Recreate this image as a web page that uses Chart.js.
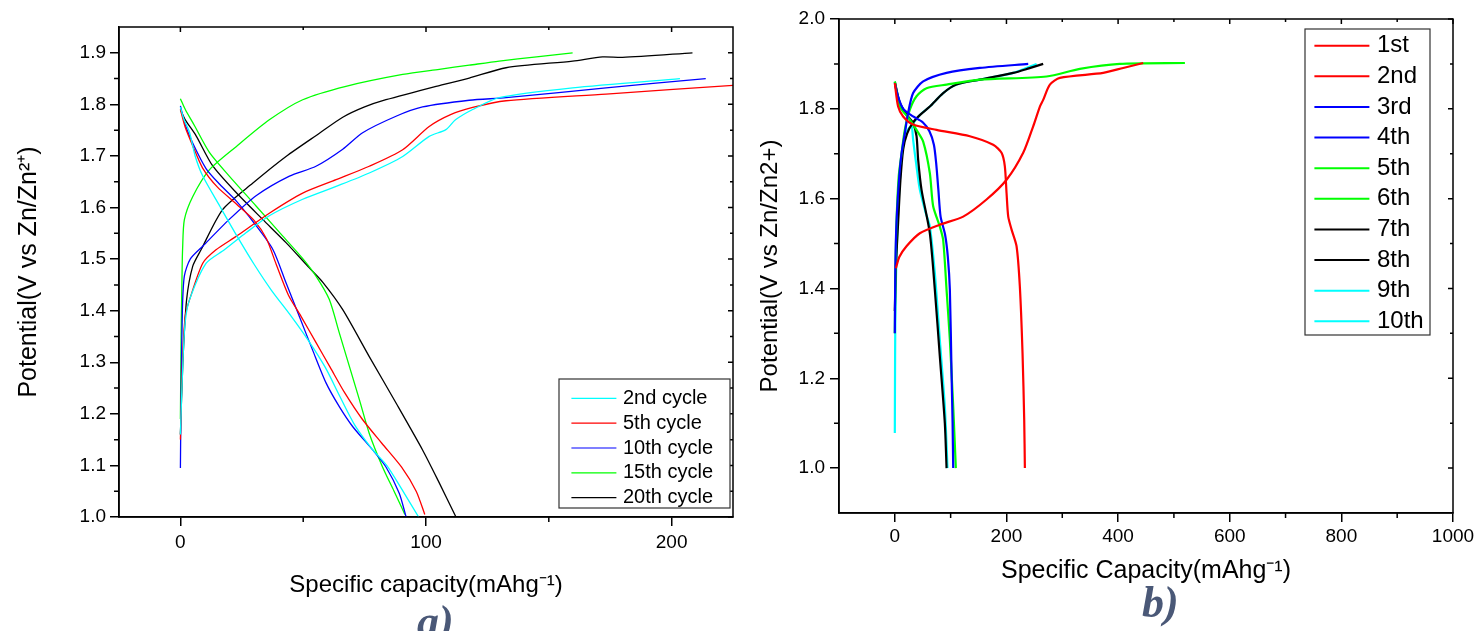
<!DOCTYPE html>
<html>
<head>
<meta charset="utf-8">
<title>Charge-discharge profiles</title>
<script src="https://cdn.jsdelivr.net/npm/chart.js@4.4.0/dist/chart.umd.min.js"></script>
<style>
  html, body { margin: 0; padding: 0; background: #fff; }
  body { width: 1477px; height: 631px; position: relative; overflow: hidden; }
  .panel { position: absolute; top: 0; height: 631px; }
  #panelA { left: 0; width: 740px; }
  #panelB { left: 740px; width: 737px; }
</style>
</head>
<body>
<div class="panel" id="panelA"><canvas id="chartA"></canvas></div>
<div class="panel" id="panelB"><canvas id="chartB"></canvas></div>
<script>
// ---- Panel a: selected cycles, [capacity mAh/g, potential V] ----
const cyclesA = ['2nd cycle', '5th cycle', '10th cycle', '15th cycle', '20th cycle'];
const colorsA = ['#00ffff', '#ff0000', '#0000ff', '#00ff00', '#000000'];

const dischargeA = [
  [[0,1.795],[1.5,1.77],[3.7,1.746],[6,1.7],[9.1,1.661],[16,1.603],[23,1.545],[30,1.49],[37,1.44],[45,1.39],[52,1.343],[59,1.29],[65,1.233],[71,1.178],[78,1.132],[84,1.1],[90,1.055],[97,1.0]],
  [[0,1.79],[2,1.755],[5,1.72],[9,1.677],[15,1.64],[23,1.606],[30,1.575],[35,1.54],[39,1.49],[44,1.43],[49,1.39],[55,1.34],[61,1.29],[67,1.24],[74,1.19],[82,1.143],[90,1.097],[96,1.05],[99.5,1.005]],
  [[0,1.797],[2,1.76],[5,1.725],[10.5,1.675],[16,1.645],[22.7,1.613],[30,1.57],[37.6,1.519],[43,1.454],[48.4,1.389],[53.8,1.324],[59.3,1.26],[64.7,1.214],[70.2,1.175],[78.3,1.13],[83.7,1.097],[89.1,1.046],[91.9,1.0]],
  [[0,1.811],[2,1.79],[5.7,1.759],[11.8,1.707],[19.9,1.661],[30.8,1.603],[41.6,1.545],[50,1.5],[55.2,1.467],[60.6,1.422],[64.7,1.357],[68.8,1.292],[72.9,1.227],[76.9,1.162],[82.3,1.097],[87,1.05],[91.4,1.005]],
  [[0,1.79],[2,1.77],[6.4,1.739],[13.1,1.681],[22.7,1.629],[33.5,1.577],[43,1.532],[52.5,1.483],[58,1.455],[66.1,1.402],[76.9,1.311],[87.8,1.221],[98.6,1.13],[105,1.07],[112.2,1.0]]
];

const chargeA = [
  [[0,1.16],[1,1.3],[2,1.38],[3.7,1.421],[10.5,1.492],[17.9,1.518],[26.7,1.551],[36.2,1.584],[49.8,1.616],[63.4,1.641],[76.9,1.667],[90.5,1.699],[101.3,1.738],[108.1,1.751],[112,1.77],[119,1.79],[129.8,1.813],[159.7,1.832],[203.4,1.85]],
  [[0,1.15],[0.8,1.3],[2,1.39],[3.7,1.421],[9.1,1.492],[14.5,1.518],[22.7,1.544],[36.2,1.589],[49.8,1.628],[63.4,1.654],[76.9,1.68],[90.5,1.712],[101.3,1.757],[110,1.78],[119,1.794],[132.6,1.807],[173.3,1.82],[225,1.837]],
  [[0,1.095],[0.3,1.25],[0.8,1.4],[1.6,1.467],[4,1.5],[9.1,1.525],[19.9,1.577],[30.8,1.623],[44.4,1.661],[55.2,1.68],[66.1,1.713],[74.2,1.745],[87.8,1.777],[98.6,1.795],[117.6,1.808],[132.6,1.813],[173.3,1.832],[213.9,1.85]],
  [[0,1.19],[0.3,1.35],[0.7,1.48],[0.9,1.52],[1.6,1.576],[5,1.621],[11.8,1.673],[22.7,1.718],[36.2,1.77],[49.8,1.809],[67.4,1.835],[90.5,1.858],[105.4,1.868],[117.6,1.876],[129.8,1.884],[145,1.892],[159.7,1.9]],
  [[0,1.16],[1,1.3],[2.5,1.42],[5,1.486],[8.4,1.518],[17.2,1.596],[29.4,1.647],[43,1.699],[56.6,1.744],[66.1,1.775],[75,1.795],[83.7,1.809],[104.1,1.835],[117.6,1.851],[132.6,1.871],[159.7,1.884],[171.9,1.892],[180,1.891],[208.5,1.9]]
];

const xTicksA = [0, 100, 200];
const xMinorA = [50, 150];
const yTicksA = [1.0, 1.1, 1.2, 1.3, 1.4, 1.5, 1.6, 1.7, 1.8, 1.9];
const yMinorA = [1.05, 1.15, 1.25, 1.35, 1.45, 1.55, 1.65, 1.75, 1.85];

// ---- Panel b: first ten cycles ----
const cyclesB = ['1st', '2nd', '3rd', '4th', '5th', '6th', '7th', '8th', '9th', '10th'];
const colorsB = ['#ff0000', '#ff0000', '#0000ff', '#0000ff', '#00ff00', '#00ff00', '#000000', '#000000', '#00ffff', '#00ffff'];

const curvesB = [
  [[0,1.857],[5.9,1.805],[14.9,1.783],[32.8,1.765],[74.7,1.753],[134.4,1.739],[176.2,1.72],[191.2,1.702],[197.1,1.672],[200.2,1.612],[203.2,1.56],[209.2,1.531],[218.1,1.494],[224,1.404],[228.8,1.256],[231.8,1.108],[233,1.0]],
  [[2,1.445],[8,1.47],[20.9,1.494],[44.8,1.523],[80.6,1.542],[122.5,1.56],[164.3,1.598],[200.2,1.642],[230,1.702],[247.9,1.761],[259.9,1.805],[265.8,1.82],[277.8,1.854],[295.7,1.869],[373.3,1.88],[409.1,1.891],[445,1.902]],
  [[0,1.857],[5,1.83],[15,1.8],[32.8,1.783],[50,1.77],[62,1.75],[70,1.72],[74,1.68],[78,1.62],[82,1.56],[90,1.52],[95,1.47],[98.6,1.397],[101.6,1.212],[103.5,1.1],[104.6,1.0]],
  [[0,1.3],[1,1.45],[3,1.546],[8,1.65],[12,1.7],[17.9,1.745],[23.8,1.791],[32.8,1.835],[50.8,1.861],[92.7,1.88],[152.3,1.891],[239,1.9]],
  [[0,1.861],[9,1.805],[26.9,1.776],[38.9,1.753],[50.8,1.727],[62.7,1.657],[68.7,1.583],[80.6,1.538],[86.6,1.508],[92.7,1.397],[98.6,1.286],[104.6,1.137],[109.3,1.0]],
  [[0,1.3],[1,1.42],[3,1.546],[7,1.65],[12,1.7],[17.9,1.753],[26.9,1.798],[38.9,1.828],[56.8,1.846],[92.7,1.854],[152.3,1.865],[271.9,1.872],[331.5,1.889],[403,1.9],[519.7,1.902]],
  [[0,1.86],[9,1.813],[21,1.787],[32.8,1.768],[38.9,1.739],[41.8,1.687],[47.8,1.62],[62.7,1.523],[71.7,1.397],[80.6,1.249],[89.6,1.1],[92.7,1.0]],
  [[0,1.35],[2,1.45],[5.9,1.546],[10,1.64],[15,1.71],[22,1.745],[32.8,1.77],[44.8,1.786],[62.7,1.805],[86.6,1.835],[110.6,1.854],[152.3,1.865],[212.1,1.88],[240,1.89],[265.8,1.9]],
  [[0,1.86],[9,1.813],[21,1.787],[30,1.765],[32.8,1.731],[38,1.68],[44.8,1.62],[55,1.57],[62.7,1.538],[71.7,1.434],[80.6,1.286],[89.6,1.137],[94.4,1.0]],
  [[0,1.078],[0.5,1.25],[1.5,1.397],[5,1.546],[9,1.64],[14,1.71],[21,1.748],[32.8,1.768],[44.8,1.786],[62.7,1.805],[86.6,1.835],[110.6,1.854],[152.3,1.865],[212.1,1.88],[254,1.9]]
];

const xTicksB = [0, 200, 400, 600, 800, 1000];
const xMinorB = [100, 300, 500, 700, 900];
const yTicksB = [1.0, 1.2, 1.4, 1.6, 1.8, 2.0];
const yMinorB = [1.1, 1.3, 1.5, 1.7, 1.9];

const FONT = '"Liberation Sans", Arial, Helvetica, sans-serif';

const toPoints = arr => arr.map(([x, y]) => ({ x, y }));

// Box frame, minor ticks and inward ticks on the top/right sides
const frameTicks = {
  id: 'frameTicks',
  afterDatasetsDraw(chart, args, o) {
    const { ctx, chartArea: a, scales: { x, y } } = chart;
    ctx.save();
    ctx.strokeStyle = '#000';
    ctx.lineWidth = 1.5;
    ctx.strokeRect(a.left, a.top, a.width, a.height);

    ctx.beginPath();
    o.xMinor.forEach(v => {
      const px = x.getPixelForValue(v);
      ctx.moveTo(px, a.bottom); ctx.lineTo(px, a.bottom + o.minorLen);
      ctx.moveTo(px, a.top); ctx.lineTo(px, a.top + o.inMinor);
    });
    o.yMinor.forEach(v => {
      const py = y.getPixelForValue(v);
      ctx.moveTo(a.left, py); ctx.lineTo(a.left - o.minorLen, py);
      ctx.moveTo(a.right, py); ctx.lineTo(a.right - o.inMinor, py);
    });
    x.ticks.forEach(t => {
      const px = x.getPixelForValue(t.value);
      ctx.moveTo(px, a.top); ctx.lineTo(px, a.top + o.inMajor);
    });
    y.ticks.forEach(t => {
      const py = y.getPixelForValue(t.value);
      ctx.moveTo(a.right, py); ctx.lineTo(a.right - o.inMajor, py);
    });
    ctx.stroke();
    ctx.restore();
  }
};

// Legend drawn inside the plot, plus the panel letter
const boxLegend = {
  id: 'boxLegend',
  afterDraw(chart, args, o) {
    const { ctx, chartArea: a } = chart;
    const left = a.left + o.left;
    const top = a.top + o.top;
    ctx.save();
    ctx.fillStyle = '#fff';
    ctx.fillRect(left, top, o.width, o.height);
    ctx.strokeStyle = '#333';
    ctx.lineWidth = 1.2;
    ctx.strokeRect(left, top, o.width, o.height);
    ctx.font = `${o.fontSize}px ${FONT}`;
    ctx.textBaseline = 'middle';
    o.labels.forEach((label, i) => {
      const cy = top + o.firstRow + i * o.rowGap;
      ctx.strokeStyle = o.colors[i];
      ctx.lineWidth = o.lineWidth;
      ctx.beginPath();
      ctx.moveTo(left + o.lineStart, cy);
      ctx.lineTo(left + o.lineStart + o.lineLen, cy);
      ctx.stroke();
      ctx.fillStyle = '#000';
      ctx.fillText(label, left + o.textStart, cy);
    });

    ctx.font = 'bold italic 44px "Liberation Serif", "DejaVu Serif", serif';
    ctx.fillStyle = '#4a5877';
    ctx.textBaseline = 'alphabetic';
    ctx.fillText(o.panel.text, o.panel.x, o.panel.y);
    ctx.restore();
  }
};

function makeAxis(cfg) {
  return {
    type: 'linear',
    min: cfg.min,
    max: cfg.max,
    afterBuildTicks: s => { s.ticks = cfg.ticks.map(v => ({ value: v })); },
    afterFit: s => {
      if (s.isHorizontal()) s.height = cfg.size; else s.width = cfg.size;
      s.paddingLeft = s.paddingRight = s.paddingTop = s.paddingBottom = 0;
    },
    border: { display: true, color: '#000', width: 1.5 },
    grid: { drawOnChartArea: false, drawTicks: true, tickLength: 9, color: '#000', lineWidth: 1.5 },
    ticks: {
      color: '#000',
      font: { family: FONT, size: 19 },
      padding: cfg.tickPad,
      maxRotation: 0,
      autoSkip: false,
      callback: cfg.format
    },
    title: {
      display: true,
      text: cfg.title,
      color: '#000',
      font: { family: FONT, size: cfg.titleSize },
      padding: cfg.titlePad
    }
  };
}

function makeDatasets(curves, colors, width) {
  return curves.map((c, i) => ({
    data: toPoints(c),
    borderColor: colors[i],
    borderWidth: width,
    showLine: true,
    pointRadius: 0,
    tension: 0.25,
    fill: false
  }));
}

const datasetsA = [];
cyclesA.forEach((name, i) => {
  datasetsA.push(...makeDatasets([dischargeA[i], chargeA[i]], [colorsA[i], colorsA[i]], 1.3));
});

new Chart(document.getElementById('chartA'), {
  type: 'scatter',
  data: { datasets: datasetsA },
  options: {
    responsive: true,
    maintainAspectRatio: false,
    animation: false,
    layout: { padding: { top: 27, right: 7, left: 0, bottom: 0 } },
    plugins: {
      legend: { display: false },
      tooltip: { enabled: false },
      frameTicks: { xMinor: xMinorA, yMinor: yMinorA, minorLen: 5, inMajor: 5, inMinor: 3 },
      boxLegend: {
        labels: cyclesA, colors: colorsA,
        left: 440, top: 352, width: 171, height: 129,
        firstRow: 19.3, rowGap: 24.85, lineStart: 12.4, lineLen: 45, textStart: 64,
        fontSize: 20, lineWidth: 1.2,
        panel: { text: 'a)', x: 417, y: 636 }
      }
    },
    scales: {
      x: makeAxis({
        min: -25, max: 225, ticks: xTicksA, size: 114, tickPad: 5,
        format: v => String(v),
        title: 'Specific capacity(mAhg⁻¹)', titleSize: 24, titlePad: { top: 0, bottom: 31 }
      }),
      y: makeAxis({
        min: 1.0, max: 1.95, ticks: yTicksA, size: 119, tickPad: 4,
        format: v => v.toFixed(1),
        title: 'Potential(V vs Zn/Zn²⁺)', titleSize: 25, titlePad: { top: 14, bottom: 0 }
      })
    }
  },
  plugins: [frameTicks, boxLegend]
});

new Chart(document.getElementById('chartB'), {
  type: 'scatter',
  data: { datasets: makeDatasets(curvesB, colorsB, 2.2) },
  options: {
    responsive: true,
    maintainAspectRatio: false,
    animation: false,
    layout: { padding: { top: 19, right: 24, left: 0, bottom: 0 } },
    plugins: {
      legend: { display: false },
      tooltip: { enabled: false },
      frameTicks: { xMinor: xMinorB, yMinor: yMinorB, minorLen: 5, inMajor: 5, inMinor: 3 },
      boxLegend: {
        labels: cyclesB, colors: colorsB,
        left: 466, top: 10, width: 125, height: 306,
        firstRow: 16.7, rowGap: 30.63, lineStart: 9.4, lineLen: 55, textStart: 72,
        fontSize: 24, lineWidth: 2,
        panel: { text: 'b)', x: 402, y: 617 }
      }
    },
    scales: {
      x: makeAxis({
        min: -100, max: 1000, ticks: xTicksB, size: 118, tickPad: 3,
        format: v => String(v),
        title: 'Specific Capacity(mAhg⁻¹)', titleSize: 25, titlePad: { top: 0, bottom: 45 }
      }),
      y: makeAxis({
        min: 0.9, max: 2.0, ticks: yTicksB, size: 99, tickPad: 5,
        format: v => v.toFixed(1),
        title: 'Potential(V vs Zn/Zn2+)', titleSize: 24, titlePad: { top: 16, bottom: 0 }
      })
    }
  },
  plugins: [frameTicks, boxLegend]
});
</script>
</body>
</html>
